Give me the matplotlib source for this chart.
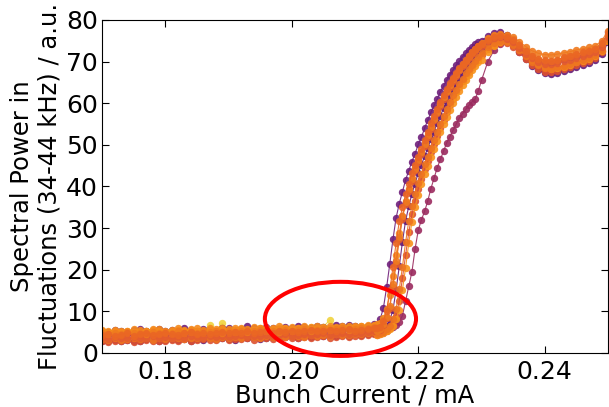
import numpy as np
import matplotlib
matplotlib.use('Agg')
import matplotlib.pyplot as plt
from matplotlib.patches import Ellipse

# bunch current grid (mA): coarse below threshold, finer through the rise, coarse on top
current_ma = np.concatenate([
    np.linspace(0.170, 0.213, 44),
    np.linspace(0.2135, 0.2295, 33),
    np.linspace(0.230, 0.250, 21),
])

# spectral power (34-44 kHz) per measurement run, a.u.
run_purple_low = [
    3.0, 2.8, 3.1, 2.9, 3.2, 2.9, 3.0, 3.3, 3.1, 2.9, 3.2, 3.4, 3.1, 3.3, 3.0, 3.4, 3.2, 3.5, 3.3, 3.6,
    3.4, 3.2, 3.6, 3.5, 3.8, 3.4, 3.7, 3.9, 3.6, 3.8, 4.0, 3.7, 4.1, 3.9, 4.2, 4.0, 4.3, 4.1, 4.4, 4.2,
    4.5, 4.3, 4.6, 4.8,
    4.7, 5.1, 5.5, 6.4, 7.9, 10.3, 15.2, 20.8, 26.7, 31.8, 35.2, 38.3, 40.7, 43.3, 45.2, 47.3, 49.2,
    51.3, 53.2, 55.3, 57.0, 58.8, 60.4, 62.0, 63.4, 64.8, 66.0, 67.3, 68.3, 69.4, 70.3, 71.3, 72.0,
    72.8, 74.0, 74.9, 75.3, 75.0, 74.0, 72.4, 70.6, 69.0, 67.9, 67.2, 67.0, 67.3, 67.8, 68.3, 68.7,
    69.1, 69.6, 70.3, 71.8, 74.6,
]
run_purple_high = [
    5.4, 5.1, 5.6, 5.3, 5.0, 5.5, 5.8, 5.2, 5.4, 5.7, 5.3, 5.6, 5.4, 6.0, 5.5, 5.3, 5.8, 5.6, 5.4, 5.9,
    6.1, 5.6, 5.8, 6.4, 5.9, 5.7, 6.2, 6.0, 5.8, 6.3, 6.1, 6.5, 6.2, 6.0, 6.6, 6.3, 6.1, 6.7, 6.4, 6.8,
    6.5, 6.3, 6.6, 6.9,
    6.7, 8.2, 10.9, 15.8, 21.4, 27.3, 32.5, 35.9, 38.7, 41.6, 43.8, 46.0, 47.9, 50.1, 51.8, 54.0, 55.9,
    57.8, 59.5, 61.0, 62.8, 64.1, 65.6, 66.9, 68.0, 69.2, 70.1, 71.2, 72.0, 72.9, 73.5, 74.2, 74.6,
    75.0, 76.2, 76.8, 77.0, 76.5, 75.4, 73.8, 72.2, 71.0, 70.2, 69.6, 69.5, 69.9, 70.3, 70.8, 71.2,
    71.4, 71.9, 72.6, 74.0, 77.2,
]
run_magenta = [
    4.0, 4.3, 3.9, 4.2, 4.5, 4.1, 4.4, 4.0, 4.3, 4.6, 4.2, 4.5, 4.1, 4.4, 4.7, 4.3, 4.6, 4.2, 4.5, 4.8,
    4.4, 4.7, 4.3, 4.6, 4.9, 4.5, 4.8, 4.6, 4.9, 5.1, 4.7, 5.0, 4.8, 5.1, 5.3, 4.9, 5.2, 5.0, 5.3, 5.5,
    5.1, 5.4, 5.2, 5.5,
    5.0, 5.2, 5.4, 5.6, 5.9, 6.3, 6.8, 7.5, 9.0, 12.5, 16.0, 19.5, 25.0, 29.5, 32.0, 34.0, 36.5,
    39.5, 42.0, 44.5, 46.5, 48.5, 50.5, 52.0, 53.5, 55.0, 56.5, 57.5, 58.5, 59.5, 60.3, 61.0, 63.0,
    65.5, 70.0, 72.8, 74.2, 74.6, 74.0, 72.6, 71.0, 69.6, 68.6, 68.0, 67.8, 68.1, 68.6, 69.1, 69.6,
    70.0, 70.5, 71.2, 72.6, 75.2,
]
run_red_low = [
    2.9, 2.7, 3.0, 2.8, 3.1, 2.7, 2.9, 3.2, 2.8, 3.0, 2.9, 3.2, 3.0, 3.3, 2.9, 3.1, 3.4, 3.1, 3.2, 3.5,
    3.1, 3.3, 3.4, 3.6, 3.2, 3.5, 3.7, 3.4, 3.6, 3.8, 3.5, 3.7, 3.9, 3.6, 3.8, 4.0, 3.7, 3.9, 4.1, 3.9,
    4.1, 4.2, 4.4, 4.6,
    4.3, 4.5, 4.8, 5.2, 5.9, 7.0, 9.0, 12.5, 18.0, 23.5, 29.0, 33.3, 36.6, 39.4, 41.9, 44.2, 46.2,
    48.2, 50.2, 52.1, 54.1, 56.0, 57.8, 59.5, 61.1, 62.6, 64.0, 65.3, 66.5, 67.6, 68.6, 69.6, 70.5,
    71.5, 73.0, 74.0, 74.5, 74.4, 73.6, 72.2, 70.6, 69.2, 68.2, 67.6, 67.4, 67.7, 68.2, 68.7, 69.2,
    69.6, 70.1, 70.8, 72.2, 75.0,
]
run_light_orange = [
    5.2, 4.9, 5.3, 5.0, 5.4, 5.1, 4.9, 5.3, 5.5, 5.2, 5.0, 5.4, 5.6, 5.2, 5.5, 5.3, 5.1, 5.6, 5.4, 5.7,
    5.3, 5.5, 5.8, 5.4, 5.6, 5.9, 5.5, 5.8, 5.6, 6.0, 5.7, 5.9, 6.1, 5.8, 6.0, 6.2, 5.9, 6.1, 6.3, 6.0,
    6.2, 6.4, 6.3, 6.6,
    4.4, 4.6, 4.8, 5.2, 5.8, 6.6, 8.1, 10.4, 15.2, 20.5, 26.4, 31.5, 35.0, 38.0, 40.5, 43.0, 45.0,
    47.0, 49.0, 51.0, 53.0, 55.0, 56.7, 58.4, 60.1, 61.6, 63.0, 64.4, 65.7, 66.9, 67.9, 68.9, 69.8,
    70.5, 72.3, 73.7, 74.6, 75.0, 74.6, 73.5, 72.0, 70.5, 69.4, 68.6, 68.2, 68.4, 68.8, 69.3, 69.8,
    70.2, 70.7, 71.3, 72.5, 75.0,
]
run_amber = [
    5.5, 5.3, 5.6, 5.4, 5.2, 5.7, 5.5, 5.3, 5.7, 5.8, 5.4, 5.6, 5.9, 5.5, 5.7, 5.9, 5.6, 6.0, 5.8, 6.0,
    5.7, 6.1, 5.9, 5.8, 6.2, 6.0, 6.1, 5.9, 6.4, 6.1, 6.3, 6.0, 6.4, 6.2, 6.4, 6.1, 6.5, 6.3, 6.5, 6.6,
    6.4, 6.6, 6.7, 6.8,
    6.9, 7.3, 8.4, 10.5, 13.9, 18.5, 23.6, 28.8, 33.0, 36.5, 39.5, 42.0, 44.4, 46.4, 48.4, 50.4, 52.4,
    54.4, 56.3, 58.1, 59.8, 61.4, 62.9, 64.3, 65.6, 66.9, 68.0, 69.1, 70.1, 71.1, 72.0, 72.8, 73.6,
    74.2, 75.4, 76.2, 76.5, 76.2, 75.4, 74.0, 72.5, 71.3, 70.6, 70.2, 70.1, 70.4, 70.8, 71.3, 71.7,
    72.1, 72.5, 73.0, 74.2, 76.4,
]
run_orange_low = [
    3.4, 3.1, 3.5, 3.2, 3.4, 3.6, 3.3, 3.5, 3.2, 3.6, 3.4, 3.7, 3.5, 3.3, 3.7, 3.5, 3.8, 3.6, 3.4, 3.8,
    3.6, 3.9, 3.7, 4.0, 3.8, 3.6, 4.0, 3.8, 4.1, 3.9, 4.2, 4.0, 3.9, 4.3, 4.1, 4.4, 4.2, 4.5, 4.3, 4.4,
    4.6, 4.5, 4.7, 5.0,
    4.5, 4.8, 5.1, 5.7, 6.6, 8.2, 10.6, 15.3, 20.7, 26.6, 31.7, 35.2, 38.2, 40.8, 43.1, 45.3, 47.1,
    49.3, 51.1, 53.2, 55.1, 57.0, 58.7, 60.3, 61.9, 63.3, 64.7, 65.9, 67.2, 68.2, 69.3, 70.2, 71.2,
    72.0, 73.4, 74.4, 74.9, 74.8, 74.1, 72.8, 71.3, 70.0, 69.1, 68.5, 68.3, 68.6, 69.0, 69.4, 69.9,
    70.3, 70.8, 71.5, 72.8, 75.4,
]
run_red_orange = [
    3.7, 3.4, 3.8, 3.5, 3.6, 3.9, 3.5, 3.7, 4.0, 3.6, 3.8, 3.5, 3.9, 3.7, 4.1, 3.8, 3.6, 4.0, 3.9, 4.2,
    3.8, 4.1, 4.3, 3.9, 4.2, 4.0, 4.4, 4.1, 4.3, 4.5, 4.2, 4.4, 4.6, 4.3, 4.5, 4.7, 4.4, 4.6, 4.8, 4.5,
    4.7, 4.9, 5.0, 5.3,
    5.2, 5.5, 6.7, 8.3, 10.8, 15.9, 21.5, 27.4, 32.3, 35.9, 38.9, 41.3, 43.9, 45.8, 47.9, 49.8, 51.9,
    53.8, 55.9, 57.6, 59.4, 61.0, 62.6, 64.0, 65.4, 66.6, 67.9, 68.9, 70.0, 70.9, 71.9, 72.6, 73.4,
    73.8, 74.9, 75.6, 75.9, 75.5, 74.7, 73.3, 71.9, 70.8, 70.0, 69.5, 69.4, 69.7, 70.1, 70.5, 70.9,
    71.3, 71.8, 72.4, 73.6, 76.0,
]
run_tangerine = [
    4.8, 4.5, 4.9, 4.6, 5.0, 4.7, 4.9, 4.6, 5.1, 4.8, 5.0, 4.7, 5.2, 4.9, 5.1, 4.8, 5.3, 5.0, 5.2, 4.9,
    5.3, 5.1, 5.4, 5.0, 5.3, 5.5, 5.2, 5.4, 5.1, 5.6, 5.3, 5.5, 5.7, 5.4, 5.6, 5.8, 5.5, 5.7, 5.9, 5.6,
    5.8, 6.0, 5.9, 6.2,
    5.4, 5.8, 6.9, 8.6, 11.4, 16.5, 22.0, 27.9, 32.8, 36.3, 39.3, 41.8, 44.3, 46.3, 48.3, 50.3, 52.3,
    54.3, 56.2, 58.0, 59.8, 61.4, 63.0, 64.5, 65.8, 67.1, 68.3, 69.4, 70.4, 71.4, 72.3, 73.1, 73.8,
    74.4, 75.6, 76.4, 76.6, 76.4, 75.8, 74.8, 73.6, 72.6, 72.0, 71.7, 71.6, 71.8, 72.1, 72.4, 72.8,
    73.1, 73.4, 73.8, 75.0, 77.4,
]
run_orange = [
    4.3, 4.6, 4.1, 4.4, 4.7, 4.2, 4.5, 4.8, 4.4, 4.6, 4.9, 4.5, 4.3, 4.7, 5.0, 4.6, 4.8, 4.5, 4.9, 5.1,
    4.7, 5.0, 4.8, 5.2, 4.9, 5.1, 5.3, 4.9, 5.2, 5.0, 5.4, 5.1, 5.3, 5.5, 5.2, 5.4, 5.6, 5.3, 5.5, 5.7,
    5.4, 5.6, 5.8, 6.0,
    5.9, 6.3, 7.8, 10.2, 15.1, 20.6, 26.5, 31.6, 35.0, 38.1, 40.6, 43.2, 45.1, 47.2, 49.0, 51.2, 53.1,
    55.2, 57.0, 58.6, 60.4, 61.9, 63.5, 64.8, 66.0, 67.3, 68.5, 69.4, 70.5, 71.4, 72.2, 73.0, 73.7,
    74.2, 75.3, 76.0, 76.2, 75.9, 75.2, 74.0, 72.6, 71.4, 70.7, 70.3, 70.2, 70.5, 71.0, 71.4, 71.8,
    72.2, 72.6, 73.1, 74.4, 76.6,
]
# short run below threshold only
run_yellow = [
    4.8, 5.0, 4.7, 4.9, 5.1, 4.8, 5.0, 5.2, 4.9, 5.1, 4.8, 5.0, 5.3, 4.9, 5.1, 5.2, 5.0, 6.8, 5.3, 7.2,
    5.3, 5.5, 5.2, 5.4, 5.7, 5.5, 5.8, 5.6, 5.9, 6.1, 5.8, 6.0, 5.9, 6.2, 6.0, 6.3, 7.9, 6.2, 6.2, 6.4,
    6.1, 6.3, 6.5, 6.4,
]

runs = [
    (run_purple_low, '#641a75'),
    (run_purple_high, '#6e1e7a'),
    (run_magenta, '#9a2a5e'),
    (run_red_low, '#dc5130'),
    (run_light_orange, '#f8921a'),
    (run_amber, '#f5891c'),
    (run_orange_low, '#ee7420'),
    (run_red_orange, '#e35b2f'),
    (run_tangerine, '#ef7a1f'),
    (run_orange, '#ea6624'),
]

plt.rcParams['font.size'] = 18
fig = plt.figure(figsize=(6.09, 4.07), dpi=100)
ax = fig.add_axes([102 / 609, 54 / 407, 506 / 609, 333 / 407])

ax.plot(current_ma[:len(run_yellow)], run_yellow, 'o-', color='#f0d33e', ms=5.3, mew=0, lw=0.8, alpha=0.9)
for values, col in runs:
    ax.plot(current_ma, values, 'o-', color=col, ms=5.3, mew=0, lw=0.8, alpha=0.9)

# highlight the region below threshold
ax.add_patch(Ellipse((0.2077, 8.2), 0.0239, 17.8, fill=False, edgecolor='red',
                     lw=2.9, clip_on=False, zorder=5))

ax.set_xlim(0.17, 0.25)
ax.set_ylim(0, 80)
ax.set_xticks([0.18, 0.20, 0.22, 0.24])
ax.set_yticks(np.arange(0, 81, 10))
ax.tick_params(direction='in', top=True, right=True, length=5)
ax.tick_params(axis='x', pad=5)
ax.tick_params(axis='y', pad=3)
ax.set_xlabel('Bunch Current / mA', fontsize=17.5, labelpad=0)
ax.set_ylabel('Spectral Power in\nFluctuations (34-44 kHz) / a.u.', fontsize=17.5, labelpad=3)

fig.savefig('out.png', dpi=100)
